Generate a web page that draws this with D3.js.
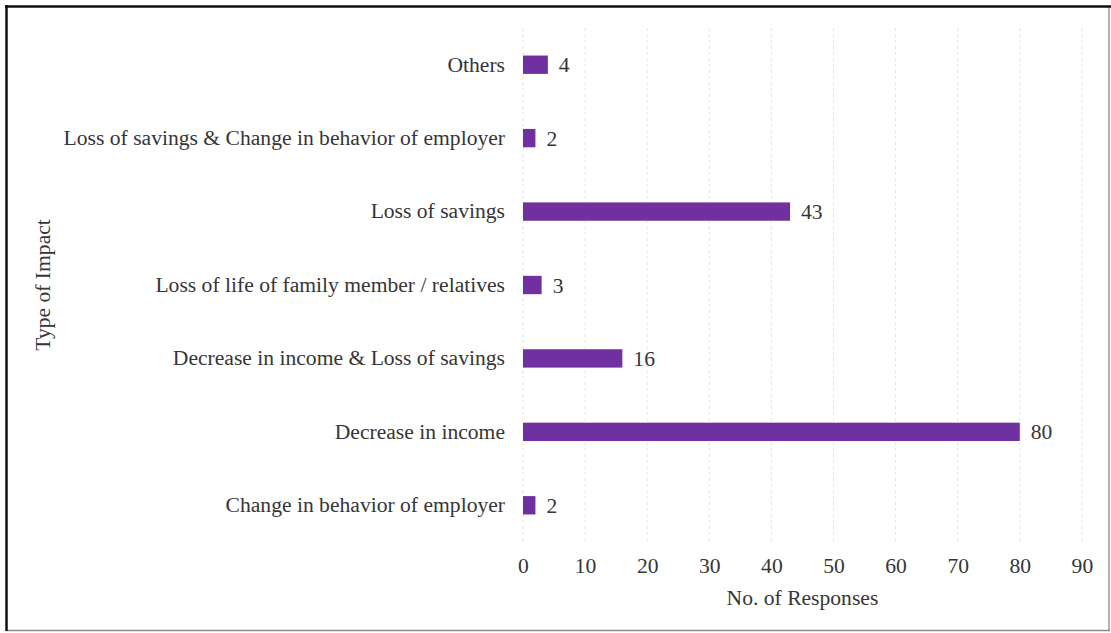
<!DOCTYPE html>
<html>
<head>
<meta charset="utf-8">
<script src="https://cdn.jsdelivr.net/npm/d3@7"></script>
<style>
  html, body { margin: 0; padding: 0; background: #fff; }
  svg { display: block; }
  text { font-family: "Liberation Serif", "Times New Roman", serif; }
</style>
</head>
<body>
<svg id="chart" width="1111" height="633"></svg>
<script>
// Impact categories, listed top to bottom
const categories = [
  "Others",
  "Loss of savings & Change in behavior of employer",
  "Loss of savings",
  "Loss of life of family member / relatives",
  "Decrease in income & Loss of savings",
  "Decrease in income",
  "Change in behavior of employer"
];
const responses = [4, 2, 43, 3, 16, 80, 2];
const xTicks = [0, 10, 20, 30, 40, 50, 60, 70, 80, 90];

const svg = d3.select("#chart");
const W = 1111, H = 633;
const margin = { left: 523, right: 29, top: 28, bottom: 91 };
const FONT = "'Liberation Serif', 'Times New Roman', serif";
const FS = 21.6;
const TEXT_COLOR = "#363636";

// Frame around the chart area
svg.append("rect").attr("x", 0).attr("y", 0).attr("width", W).attr("height", H).attr("fill", "#fff");
svg.append("line").attr("x1", 1109).attr("x2", 1109).attr("y1", 6).attr("y2", 631).attr("stroke", "#9a9a9a").attr("stroke-width", 1.5);
svg.append("line").attr("x1", 6).attr("x2", 1110).attr("y1", 630.5).attr("y2", 630.5).attr("stroke", "#8a8a8a").attr("stroke-width", 1.5);
svg.append("line").attr("x1", 5).attr("x2", 1111).attr("y1", 6.5).attr("y2", 6.5).attr("stroke", "#111").attr("stroke-width", 2.5);
svg.append("line").attr("x1", 6.5).attr("x2", 6.5).attr("y1", 5).attr("y2", 631).attr("stroke", "#111").attr("stroke-width", 2.5);

const x = d3.scaleLinear().domain([0, 90]).range([margin.left, margin.left + 62.1 * 9]);
const y = d3.scaleBand().domain(categories).range([margin.top, H - margin.bottom]).paddingInner(0.75).paddingOuter(0.375);

// Vertical gridlines
svg.append("g").selectAll("line").data(xTicks).join("line")
  .attr("x1", d => x(d)).attr("x2", d => x(d))
  .attr("y1", margin.top).attr("y2", H - margin.bottom)
  .attr("stroke", "#e4e4e4").attr("stroke-width", 1)
  .attr("stroke-dasharray", "3,3");

// X axis tick labels
const xAxis = d3.axisBottom(x).tickValues(xTicks).tickSize(0).tickPadding(0);
const gx = svg.append("g").attr("transform", `translate(0,${H - margin.bottom + 16})`).call(xAxis);
gx.attr("font-family", FONT).attr("font-size", FS);
gx.select(".domain").remove();
gx.selectAll("text").attr("fill", TEXT_COLOR);

// Y axis category labels
const yAxis = d3.axisLeft(y).tickSize(0).tickPadding(18);
const gy = svg.append("g").attr("transform", `translate(${margin.left},0)`).call(yAxis);
gy.attr("font-family", FONT).attr("font-size", FS);
gy.select(".domain").remove();
gy.selectAll("text").attr("fill", TEXT_COLOR);

// Bars
svg.append("g").selectAll("rect").data(categories).join("rect")
  .attr("x", x(0))
  .attr("y", d => y(d))
  .attr("width", (d, i) => x(responses[i]) - x(0))
  .attr("height", y.bandwidth())
  .attr("fill", "#7030a0");

// Value labels
svg.append("g").selectAll("text").data(categories).join("text")
  .attr("x", (d, i) => x(responses[i]) + 11)
  .attr("y", d => y(d) + y.bandwidth() / 2)
  .attr("dy", "0.35em")
  .attr("font-size", FS)
  .attr("fill", TEXT_COLOR)
  .text((d, i) => responses[i]);

// Axis titles
svg.append("text")
  .attr("x", x(45)).attr("y", 605)
  .attr("text-anchor", "middle").attr("font-size", FS).attr("fill", TEXT_COLOR)
  .text("No. of Responses");

svg.append("text")
  .attr("transform", `translate(50,${(margin.top + H - margin.bottom) / 2}) rotate(-90)`)
  .attr("text-anchor", "middle").attr("font-size", FS).attr("fill", TEXT_COLOR)
  .text("Type of Impact");
</script>
</body>
</html>
